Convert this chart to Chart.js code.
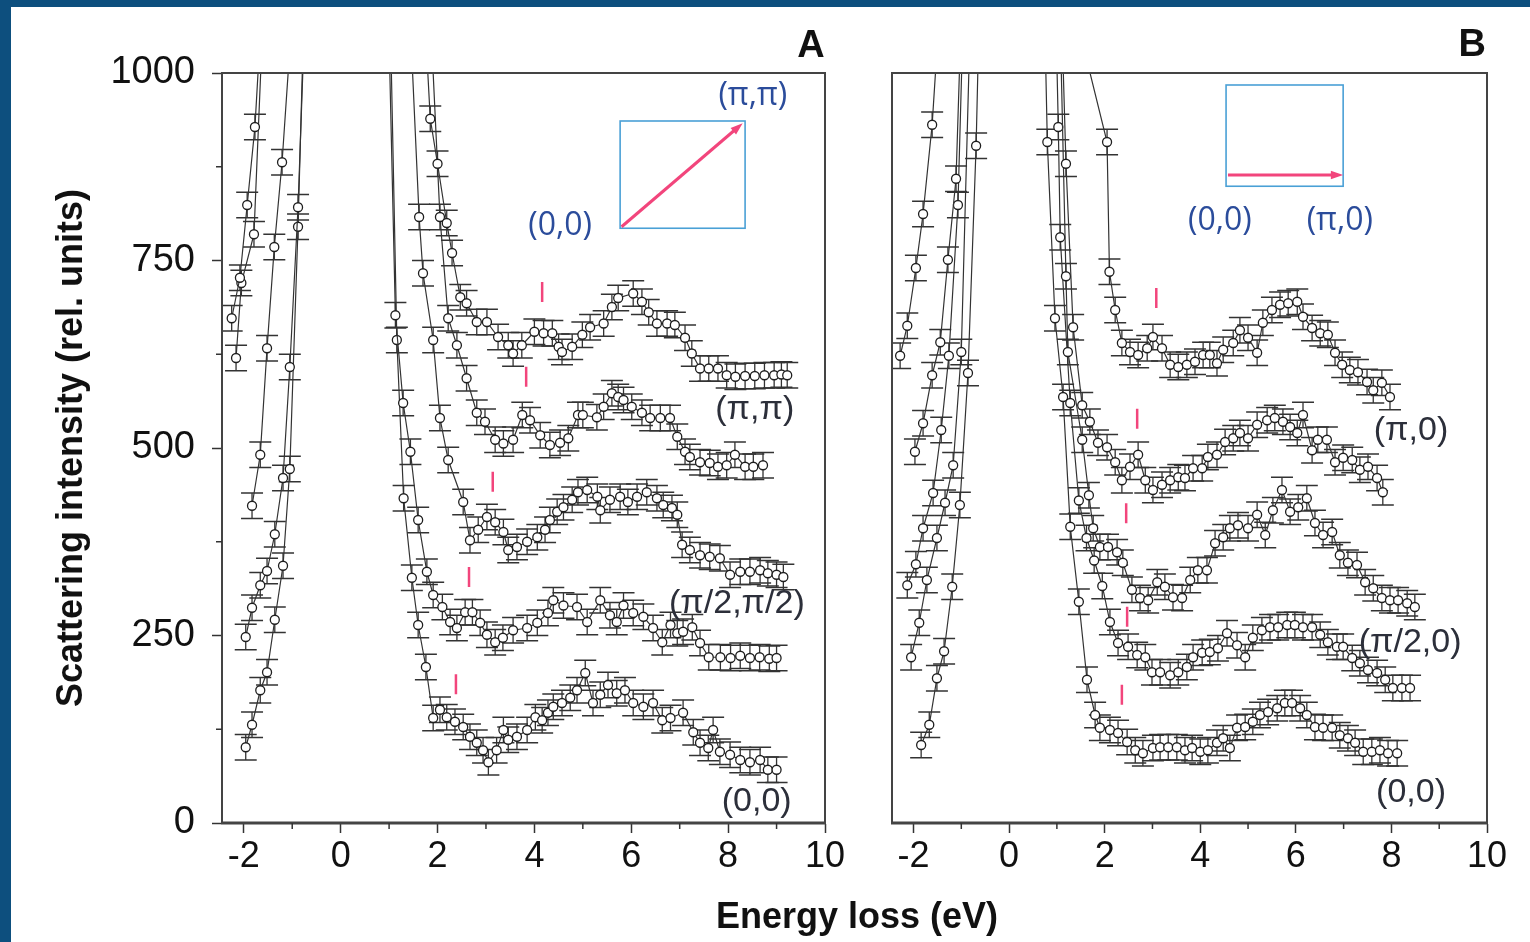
<!DOCTYPE html>
<html>
<head>
<meta charset="utf-8">
<script src="https://cdn.jsdelivr.net/npm/chart.js@4.4.1/dist/chart.umd.min.js"></script>
<style>
  html, body { margin: 0; padding: 0; background: #fff; }
  #frame { position: relative; width: 1530px; height: 942px; overflow: hidden; background: #fff; }
  #frame:before { content: ""; position: absolute; left: 0; top: 0; width: 11px; height: 942px; background: #0d4f7e; }
  #frame:after { content: ""; position: absolute; left: 0; top: 0; width: 1530px; height: 7px; background: #0d4f7e; }
  canvas { position: absolute; left: 0; top: 0; }
</style>
</head>
<body>
<div id="frame">
  <canvas id="chartA" width="1530" height="942"></canvas>
  <canvas id="chartB" width="1530" height="942"></canvas>
</div>
<script>
// =========================
// DATA  [energy loss (eV), intensity]
// left = energy-gain side, right = loss side (elastic peak is off scale)
// =========================

// panel A : (0,0) -> (pi,pi)
const a1Left = [[-2.25,673],[-2.08,727],[-1.93,824],[-1.77,928],[-1.6,1120]];
const a1Right = [[1.7,1120],[1.85,939],[2.0,879],[2.19,800],[2.3,760],[2.47,701],[2.6,693],[2.81,668],[3.02,668],
  [3.25,648],[3.46,637],[3.56,626],[3.74,637],[4.0,655],[4.19,653],[4.37,653],[4.5,635],[4.57,628],[4.78,635],
  [4.99,651],[5.15,661],[5.43,666],[5.6,688],[5.73,700],[6.04,706],[6.22,695],[6.36,681],[6.53,666],[6.74,666],
  [6.9,664],[7.11,647],[7.25,626],[7.42,606],[7.6,606],[7.79,606],[7.97,597],[8.15,595],[8.35,596],[8.55,596],
  [8.75,597],[8.95,597],[9.1,598],[9.22,597]];

const a2Left = [[-2.16,620],[-2.05,720],[-1.79,785],[-1.6,1080]];
const a2Right = [[1.8,1150],[2.05,808],[2.22,673],[2.4,637],[2.6,593],[2.81,547],[2.98,535],[3.19,511],[3.36,506],
  [3.56,511],[3.75,544],[3.91,537],[4.12,517],[4.32,504],[4.53,507],[4.7,513],[4.9,544],[5.0,544],[5.29,541],
  [5.43,555],[5.6,573],[5.73,568],[5.84,564],[6.01,555],[6.22,547],[6.39,540],[6.6,540],[6.8,540],[6.95,515],
  [7.11,495],[7.21,488],[7.42,481],[7.62,480],[7.79,475],[7.97,477],[8.14,491],[8.35,475],[8.52,475],[8.72,477]];

const a3Left = [[-1.83,423],[-1.66,491],[-1.52,633],[-1.37,768],[-1.21,881],[-1.0,1080]];
const a3Right = [[1.45,1050],[1.62,808],[1.7,733],[1.91,644],[2.05,540],[2.22,484],[2.53,428],[2.67,377],[2.84,391],
  [3.02,408],[3.19,401],[3.36,388],[3.46,364],[3.64,368],[3.85,375],[4.06,381],[4.22,391],[4.32,404],[4.47,415],
  [4.6,421],[4.78,431],[4.9,441],[5.09,444],[5.3,435],[5.36,417],[5.56,431],[5.77,435],[5.93,428],[6.12,435],
  [6.32,441],[6.53,433],[6.66,424],[6.84,420],[6.95,411],[7.05,371],[7.21,364],[7.42,357],[7.62,355],[7.83,353],
  [8.04,331],[8.25,335],[8.45,335],[8.66,337],[8.82,333],[9.0,331],[9.14,328]];

const a4Left = [[-1.96,248],[-1.83,287],[-1.66,317],[-1.52,336],[-1.36,385],[-1.19,460],[-1.05,608],[-0.88,821],[-0.7,1150]];
const a4Right = [[0.98,1100],[1.13,677],[1.29,560],[1.44,495],[1.6,404],[1.78,335],[1.91,304],[2.1,288],[2.26,268],
  [2.4,260],[2.57,281],[2.72,281],[2.88,267],[3.02,251],[3.19,241],[3.35,247],[3.56,257],[3.85,260],[4.06,267],
  [4.28,280],[4.39,297],[4.6,290],[4.88,288],[5.09,268],[5.36,297],[5.56,277],[5.7,268],[5.84,290],[6.04,280],
  [6.25,275],[6.45,260],[6.64,241],[6.81,264],[6.95,253],[7.07,255],[7.26,261],[7.42,240],[7.6,221],[7.84,221],
  [8.05,220],[8.25,223],[8.45,220],[8.65,221],[8.85,219],[9.0,220]];

const a5Left = [[-1.96,101],[-1.83,131],[-1.66,177],[-1.52,201],[-1.36,271],[-1.19,343],[-1.05,472],[-0.88,795],[-0.75,1100]];
const a5Right = [[1.0,1150],[1.16,644],[1.3,433],[1.47,327],[1.6,264],[1.76,208],[1.91,140],[2.05,151],[2.19,141],
  [2.36,135],[2.53,128],[2.67,115],[2.81,107],[2.94,97],[3.05,81],[3.22,97],[3.36,124],[3.46,111],[3.64,115],
  [3.85,124],[4.02,141],[4.16,137],[4.28,147],[4.39,155],[4.57,160],[4.74,167],[4.88,177],[5.05,200],[5.21,160],
  [5.36,171],[5.52,184],[5.7,173],[5.87,177],[6.04,160],[6.25,155],[6.45,160],[6.64,137],[6.81,140],[7.07,147],
  [7.28,121],[7.42,107],[7.59,100],[7.69,124],[7.83,95],[8.04,91],[8.25,84],[8.45,81],[8.66,84],[8.82,71],[9.0,71]];

// panel B : (0,0) -> (pi,0)
const b1Left = [[-2.28,623],[-2.13,663],[-1.95,740],[-1.8,812],[-1.61,931],[-1.45,1090]];
const b1Right = [[1.5,1050],[2.05,908],[2.1,735],[2.22,684],[2.36,640],[2.53,628],[2.7,624],[2.89,633],[3.01,648],
  [3.2,633],[3.37,611],[3.54,608],[3.72,611],[3.89,615],[4.06,624],[4.2,624],[4.35,613],[4.48,631],[4.69,640],
  [4.83,657],[5.0,647],[5.19,627],[5.31,667],[5.5,684],[5.67,691],[5.84,693],[6.03,695],[6.15,675],[6.34,660],
  [6.51,653],[6.67,651],[6.82,627],[6.97,611],[7.13,604],[7.3,601],[7.49,588],[7.62,577],[7.8,587],[7.97,568]];

const b2Left = [[-1.97,495],[-1.8,533],[-1.61,597],[-1.44,641],[-1.28,751],[-1.11,859],[-1.0,1080]];
const b2Right = [[1.08,1120],[1.19,879],[1.34,661],[1.53,557],[1.69,535],[1.86,507],[2.05,501],[2.22,481],[2.36,457],
  [2.53,475],[2.7,491],[2.85,457],[3.01,444],[3.2,451],[3.37,457],[3.54,461],[3.68,460],[3.85,473],[4.04,473],
  [4.16,488],[4.35,491],[4.52,508],[4.69,513],[4.83,520],[5.0,513],[5.19,531],[5.4,537],[5.56,540],[5.73,535],
  [5.88,528],[6.03,520],[6.15,544],[6.34,497],[6.46,511],[6.65,511],[6.82,481],[6.99,487],[7.18,484],[7.34,471],
  [7.51,475],[7.7,460],[7.82,441]];

const b3Left = [[-2.13,317],[-1.95,345],[-1.8,393],[-1.59,440],[-1.42,524],[-1.26,623],[-1.07,824],[-0.95,1100]];
const b3Right = [[1.05,1120],[1.19,729],[1.23,628],[1.53,511],[1.67,437],[1.76,393],[1.9,368],[2.07,368],[2.26,361],
  [2.38,347],[2.57,311],[2.74,300],[2.91,297],[3.1,321],[3.26,315],[3.43,301],[3.62,300],[3.79,324],[3.95,337],
  [4.14,337],[4.31,373],[4.48,381],[4.62,393],[4.79,397],[5.0,393],[5.19,411],[5.36,384],[5.52,417],[5.71,444],
  [5.88,415],[6.05,421],[6.23,433],[6.4,400],[6.57,384],[6.76,388],[6.92,357],[7.09,347],[7.28,344],[7.45,321],
  [7.62,313],[7.8,300],[7.97,297],[8.14,297],[8.33,293],[8.49,288]];

const b4Left = [[-2.05,221],[-1.88,267],[-1.72,324],[-1.51,380],[-1.34,427],[-1.17,477],[-1.0,628],[-0.8,1100]];
const b4Right = [[0.97,1100],[1.03,928],[1.07,781],[1.28,560],[1.46,430],[1.62,380],[1.78,350],[1.95,316],[2.11,268],
  [2.28,240],[2.49,235],[2.68,224],[2.85,221],[2.99,201],[3.16,201],[3.37,197],[3.54,201],[3.72,208],[3.85,221],
  [4.04,227],[4.2,228],[4.37,233],[4.56,253],[4.77,237],[4.94,221],[5.1,247],[5.29,257],[5.46,261],[5.63,261],
  [5.82,264],[5.98,264],[6.15,261],[6.34,261],[6.51,251],[6.67,241],[6.86,235],[6.99,235],[7.18,220],[7.34,213],
  [7.51,204],[7.7,200],[7.87,191],[8.03,180],[8.22,180],[8.39,180]];

const b5Left = [[-1.84,104],[-1.67,131],[-1.51,193],[-1.36,229],[-1.19,315],[-1.03,424],[-0.86,600],[-0.69,903],[-0.6,1150]];
const b5Right = [[0.72,1150],[0.8,908],[0.96,673],[1.13,568],[1.28,395],[1.46,295],[1.63,191],[1.8,144],[1.9,127],
  [2.11,124],[2.28,120],[2.47,108],[2.64,97],[2.8,93],[3.01,100],[3.16,101],[3.33,101],[3.51,101],[3.68,97],
  [3.83,100],[4.0,95],[4.16,97],[4.35,107],[4.48,113],[4.62,100],[4.77,127],[4.94,128],[5.1,135],[5.25,144],
  [5.42,148],[5.61,153],[5.77,160],[5.92,160],[6.09,153],[6.23,144],[6.4,128],[6.57,127],[6.76,127],[6.92,117],
  [7.09,113],[7.24,107],[7.41,95],[7.59,95],[7.76,97],[7.93,93],[8.12,93]];

// small red markers (onset positions)
const marksA = [[4.16,708],[3.83,595],[3.14,455],[2.65,328],[2.38,185]];
const marksB = [[3.08,700],[2.68,539],[2.45,413],[2.47,275],[2.36,171]];

// error bar half size, intensity units
const errBar = 17;

// axes
const xMin = -2.45, xMax = 10;
const yMin = 0, yMax = 1000;
const xTickValues = [-2, 0, 2, 4, 6, 8, 10];
const xMinorTicks = [-1, 1, 3, 5, 7, 9];
const yTickValues = [0, 250, 500, 750, 1000];
const yMinorTicks = [125, 375, 625, 875];

// =========================
// STYLE
// =========================
const ink = "#1e1e1e";
const pink = "#f2457c";
const boxBlue = "#4aa0d6";
const labelBlue = "#2b4c9b";
const labelGray = "#2c2f3a";

// =========================
// HELPERS
// =========================
const toPts = arr => arr.map(p => ({ x: p[0], y: p[1] }));

function curve(left, right) {
  return {
    data: [...toPts(left), { x: 0, y: null }, ...toPts(right)],
    err: errBar,
    borderColor: "#333",
    borderWidth: 1.2,
    pointRadius: 4.5,
    pointHoverRadius: 4.5,
    pointBackgroundColor: "#fff",
    pointBorderColor: ink,
    pointBorderWidth: 1.3,
    tension: 0,
    spanGaps: false,
    clip: 0
  };
}

function markSet(marks) {
  return {
    data: toPts(marks),
    showLine: false,
    pointStyle: "line",
    rotation: 90,
    pointRadius: 10,
    pointHoverRadius: 10,
    pointBorderColor: pink,
    pointBorderWidth: 2.5,
    borderColor: pink
  };
}

// error bars under the markers
const errorBars = {
  id: "errorBars",
  beforeDatasetsDraw(chart) {
    const { ctx, chartArea: a } = chart;
    const ys = chart.scales.y;
    ctx.save();
    ctx.beginPath();
    ctx.rect(a.left, a.top, a.right - a.left, a.bottom - a.top);
    ctx.clip();
    ctx.strokeStyle = "#333";
    ctx.lineWidth = 1.3;
    chart.data.datasets.forEach((ds, i) => {
      if (!ds.err) return;
      const meta = chart.getDatasetMeta(i);
      meta.data.forEach((pt, j) => {
        const v = ds.data[j].y;
        if (v === null) return;
        const top = ys.getPixelForValue(v + ds.err);
        const bot = ys.getPixelForValue(v - ds.err);
        const cap = 11;
        ctx.beginPath();
        ctx.moveTo(pt.x, top); ctx.lineTo(pt.x, bot);
        ctx.moveTo(pt.x - cap, top); ctx.lineTo(pt.x + cap, top);
        ctx.moveTo(pt.x - cap, bot); ctx.lineTo(pt.x + cap, bot);
        ctx.stroke();
      });
    });
    ctx.restore();
  }
};

// frame box, minor ticks, insets and labels
const panelDecor = {
  id: "panelDecor",
  afterDraw(chart, args, opts) {
    const { ctx, chartArea: a } = chart;
    const xs = chart.scales.x, ys = chart.scales.y;
    const px = v => xs.getPixelForValue(v);
    const py = v => ys.getPixelForValue(v);

    ctx.save();
    // box
    ctx.strokeStyle = "#444";
    ctx.lineWidth = 2;
    ctx.strokeRect(a.left, a.top, a.right - a.left, a.bottom - a.top);
    ctx.lineWidth = 3;
    ctx.beginPath(); ctx.moveTo(a.left - 1, a.bottom); ctx.lineTo(a.right + 1, a.bottom); ctx.stroke();

    // minor ticks
    ctx.lineWidth = 1.5;
    ctx.strokeStyle = "#333";
    xMinorTicks.forEach(v => {
      ctx.beginPath(); ctx.moveTo(px(v), a.bottom); ctx.lineTo(px(v), a.bottom + 6); ctx.stroke();
    });
    if (opts.yMinor) {
      yMinorTicks.forEach(v => {
        ctx.beginPath(); ctx.moveTo(a.left, py(v)); ctx.lineTo(a.left - 6, py(v)); ctx.stroke();
      });
    }

    // inset: Brillouin zone box with q direction
    const b = opts.inset;
    ctx.strokeStyle = boxBlue;
    ctx.lineWidth = 1.6;
    ctx.strokeRect(px(b.x0), py(b.y1), px(b.x1) - px(b.x0), py(b.y0) - py(b.y1));
    const x1 = px(b.ax0), y1 = py(b.ay0), x2 = px(b.ax1), y2 = py(b.ay1);
    const ang = Math.atan2(y2 - y1, x2 - x1);
    const h = 13;
    ctx.strokeStyle = pink;
    ctx.fillStyle = pink;
    ctx.lineWidth = 3;
    ctx.beginPath();
    ctx.moveTo(x1, y1);
    ctx.lineTo(x2 - h * 0.8 * Math.cos(ang), y2 - h * 0.8 * Math.sin(ang));
    ctx.stroke();
    ctx.beginPath();
    ctx.moveTo(x2, y2);
    ctx.lineTo(x2 - h * Math.cos(ang - 0.33), y2 - h * Math.sin(ang - 0.33));
    ctx.lineTo(x2 - h * Math.cos(ang + 0.33), y2 - h * Math.sin(ang + 0.33));
    ctx.closePath();
    ctx.fill();

    // texts
    ctx.textAlign = "center";
    ctx.textBaseline = "middle";
    opts.texts.forEach(t => {
      ctx.font = t.font;
      ctx.fillStyle = t.color;
      ctx.fillText(t.text, px(t.x), py(t.y));
    });

    if (opts.xTitle) {
      ctx.font = "bold 36px 'Liberation Sans', Arial, sans-serif";
      ctx.fillStyle = "#111";
      ctx.fillText("Energy loss (eV)", 857, 918);
    }
    ctx.restore();
  }
};

const curveFont = "34px 'Liberation Sans', Arial, sans-serif";
const insetFont = "32px 'Open Sans', 'Liberation Sans', sans-serif";
const letterFont = "bold 38px 'Liberation Sans', Arial, sans-serif";

function xAxis() {
  return {
    type: "linear",
    min: xMin,
    max: xMax,
    afterBuildTicks: s => { s.ticks = xTickValues.map(v => ({ value: v })); },
    afterFit: s => { s.height = 60; },
    ticks: {
      color: "#111",
      padding: 2,
      maxRotation: 0,
      autoSkip: false,
      callback: v => String(v),
      font: { family: "'Liberation Sans Narrow', 'Liberation Sans', Arial, sans-serif", size: 36 }
    },
    grid: { drawOnChartArea: false, drawTicks: true, tickLength: 10, tickColor: "#333", tickWidth: 1.5 },
    border: { display: true, color: "#444", width: 2 }
  };
}

// =========================
// PANEL A
// =========================
new Chart(document.getElementById("chartA"), {
  type: "line",
  data: {
    datasets: [
      curve(a1Left, a1Right), curve(a2Left, a2Right), curve(a3Left, a3Right),
      curve(a4Left, a4Right), curve(a5Left, a5Right), markSet(marksA)
    ]
  },
  options: {
    responsive: false,
    animation: false,
    events: [],
    layout: { padding: { left: 50, right: 705, top: 73, bottom: 59 } },
    plugins: {
      legend: { display: false },
      tooltip: { enabled: false },
      panelDecor: {
        yMinor: true,
        xTitle: true,
        inset: { x0: 5.77, x1: 8.35, y0: 793, y1: 936, ax0: 5.8, ay0: 795, ax1: 8.3, ay1: 933 },
        texts: [
          { text: "(π,π)", x: 8.51, y: 969, font: insetFont, color: labelBlue },
          { text: "(0,0)", x: 4.53, y: 796, font: insetFont, color: labelBlue },
          { text: "(π,π)", x: 8.55, y: 551, font: curveFont, color: labelGray },
          { text: "(π/2,π/2)", x: 8.18, y: 292, font: curveFont, color: labelGray },
          { text: "(0,0)", x: 8.59, y: 28, font: curveFont, color: labelGray },
          { text: "A", x: 9.71, y: 1035, font: letterFont, color: "#111" }
        ]
      }
    },
    scales: {
      x: xAxis(),
      y: {
        min: yMin,
        max: yMax,
        afterBuildTicks: s => { s.ticks = yTickValues.map(v => ({ value: v })); },
        afterFit: s => { s.width = 172; },
        ticks: {
          color: "#111",
          padding: 17,
          callback: v => String(v),
          font: { family: "'Liberation Sans', Arial, sans-serif", size: 38 }
        },
        grid: { drawOnChartArea: false, drawTicks: true, tickLength: 10, tickColor: "#333", tickWidth: 1.5 },
        border: { display: true, color: "#444", width: 2 },
        title: {
          display: true,
          text: "Scattering intensity (rel. units)",
          color: "#111",
          padding: 0,
          font: { family: "'Liberation Sans', Arial, sans-serif", size: 36, weight: "bold" }
        }
      }
    }
  },
  plugins: [errorBars, panelDecor]
});

// =========================
// PANEL B
// =========================
new Chart(document.getElementById("chartB"), {
  type: "line",
  data: {
    datasets: [
      curve(b1Left, b1Right), curve(b2Left, b2Right), curve(b3Left, b3Right),
      curve(b4Left, b4Right), curve(b5Left, b5Right), markSet(marksB)
    ]
  },
  options: {
    responsive: false,
    animation: false,
    events: [],
    layout: { padding: { left: 892, right: 43, top: 73, bottom: 59 } },
    plugins: {
      legend: { display: false },
      tooltip: { enabled: false },
      panelDecor: {
        yMinor: false,
        xTitle: false,
        inset: { x0: 4.54, x1: 6.99, y0: 849, y1: 984, ax0: 4.58, ay0: 864, ax1: 6.99, ay1: 864 },
        texts: [
          { text: "(0,0)", x: 4.41, y: 803, font: insetFont, color: labelBlue },
          { text: "(π,0)", x: 6.92, y: 803, font: insetFont, color: labelBlue },
          { text: "(π,0)", x: 8.41, y: 523, font: curveFont, color: labelGray },
          { text: "(π/2,0)", x: 8.39, y: 241, font: curveFont, color: labelGray },
          { text: "(0,0)", x: 8.41, y: 41, font: curveFont, color: labelGray },
          { text: "B", x: 9.69, y: 1037, font: letterFont, color: "#111" }
        ]
      }
    },
    scales: {
      x: xAxis(),
      y: {
        min: yMin,
        max: yMax,
        afterFit: s => { s.width = 0; },
        ticks: { display: false },
        grid: { drawOnChartArea: false, drawTicks: false },
        border: { display: true, color: "#444", width: 2 }
      }
    }
  },
  plugins: [errorBars, panelDecor]
});
</script>
</body>
</html>
